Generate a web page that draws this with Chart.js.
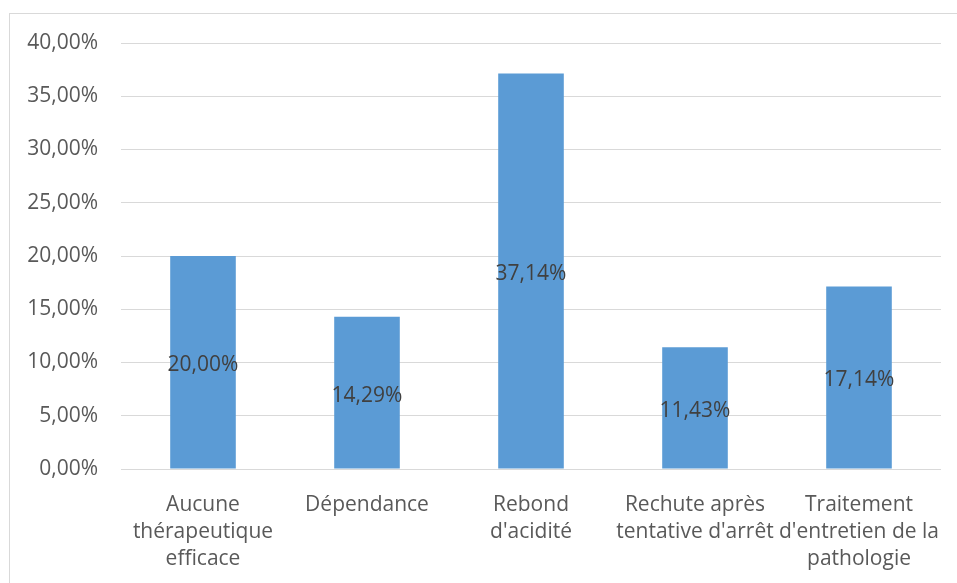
<!DOCTYPE html>
<html>
<head>
<meta charset="utf-8">
<script src="https://cdn.jsdelivr.net/npm/chart.js@4/dist/chart.umd.min.js"></script>
<style>
html,body{margin:0;padding:0;background:#fff;overflow:hidden;}
#wrap{position:relative;width:957px;height:583px;}
#frame{position:absolute;left:9px;top:13px;width:1000px;height:1000px;border:1px solid #d9d9d9;box-sizing:border-box;}
canvas{position:absolute;left:0;top:0;}
</style>
</head>
<body>
<div id="wrap">
<div id="frame"></div>
<canvas id="c" width="957" height="583"></canvas>
</div>
<script>
const categories = [
  ["Aucune", "thérapeutique", "efficace"],
  ["Dépendance"],
  ["Rebond", "d'acidité"],
  ["Rechute après", "tentative d'arrêt"],
  ["Traitement", "d'entretien de la", "pathologie"]
];
const values = [20.00, 14.29, 37.14, 11.43, 17.14];
const yTicks = [0, 5, 10, 15, 20, 25, 30, 35, 40];

const fmt = v => v.toFixed(2).replace('.', ',') + '%';
const FONT = "'Open Sans', sans-serif";

const labelPlugin = {
  id: 'barLabels',
  afterDatasetsDraw(chart) {
    const ctx = chart.ctx;
    const meta = chart.getDatasetMeta(0);
    ctx.save();
    ctx.font = "21px " + FONT;
    ctx.fillStyle = '#404040';
    ctx.textAlign = 'center';
    ctx.textBaseline = 'middle';
    meta.data.forEach((bar, i) => {
      const y = (bar.y + bar.base) / 2 + 3;
      ctx.fillText(fmt(chart.data.datasets[0].data[i]), bar.x, y);
    });
    ctx.restore();
  }
};

new Chart(document.getElementById('c'), {
  type: 'bar',
  data: {
    labels: categories,
    datasets: [{
      data: values,
      backgroundColor: '#5b9bd5',
      borderWidth: 0,
      barPercentage: 0.4,
      categoryPercentage: 1.0
    }]
  },
  options: {
    responsive: false,
    animation: false,
    layout: { padding: { top: 43, right: 16, left: 0, bottom: 0 } },
    plugins: { legend: { display: false }, tooltip: { enabled: false } },
    scales: {
      y: {
        min: 0, max: 40,
        afterBuildTicks: s => { s.ticks = yTicks.map(v => ({ value: v })); },
        afterFit: s => { s.width = 121; s.paddingTop = 0; s.paddingBottom = 0; },
        border: { display: false },
        grid: { color: '#d9d9d9', lineWidth: 1, drawTicks: false },
        ticks: {
          padding: 23,
          color: '#595959',
          font: { family: FONT, size: 21 },
          callback: v => fmt(v)
        }
      },
      x: {
        afterFit: s => { s.height = 114; s.paddingLeft = 0; s.paddingRight = 0; },
        border: { display: false },
        grid: { display: false, drawTicks: false },
        ticks: {
          padding: 22,
          color: '#595959',
          maxRotation: 0,
          autoSkip: false,
          font: { family: FONT, size: 21, lineHeight: 1.3 }
        }
      }
    }
  },
  plugins: [labelPlugin]
});
</script>
</body>
</html>
